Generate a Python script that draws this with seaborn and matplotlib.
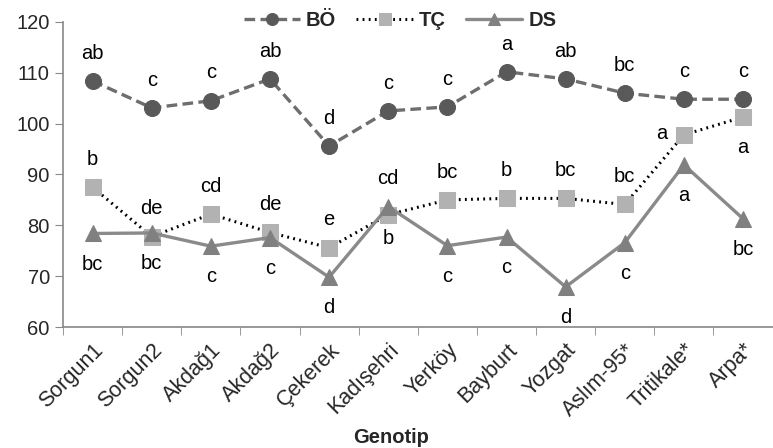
import pandas as pd
import seaborn as sns
import matplotlib.pyplot as plt

# Veriler
genotip = ['Sorgun1', 'Sorgun2', 'Akdağ1', 'Akdağ2', 'Çekerek', 'Kadışehri',
           'Yerköy', 'Bayburt', 'Yozgat', 'Aslım-95*', 'Tritikale*', 'Arpa*']
bo = [108.4, 103.1, 104.5, 108.8, 95.6, 102.5, 103.3, 110.2, 108.8, 106.0, 104.8, 104.8]
tc = [87.5, 77.8, 82.2, 78.6, 75.6, 82.1, 85.0, 85.3, 85.3, 84.1, 97.8, 101.3]
ds = [78.4, 78.5, 75.9, 77.6, 69.8, 83.7, 76.0, 77.7, 67.9, 76.6, 91.9, 81.3]

bo_harf = ['ab', 'c', 'c', 'ab', 'd', 'c', 'c', 'a', 'ab', 'bc', 'c', 'c']
tc_harf = ['b', 'de', 'cd', 'de', 'e', 'b', 'bc', 'b', 'bc', 'bc', 'a', 'a']
ds_harf = ['bc', 'bc', 'c', 'c', 'd', 'cd', 'c', 'c', 'd', 'c', 'a', 'bc']

# harflerin konumu (nokta cinsinden kayma)
bo_ofs = [(0, 20)] * 12
tc_ofs = [(0, 20)] * 5 + [(0, -17)] + [(0, 20)] * 4 + [(-16, 1), (0, -22)]
ds_ofs = [(0, -22)] * 5 + [(0, 20)] + [(0, -22)] * 6

df = pd.DataFrame({'Genotip': genotip, 'BÖ': bo, 'TÇ': tc, 'DS': ds})
uzun = df.melt(id_vars='Genotip', var_name='seri', value_name='deger')

sns.set_style('white')
plt.rcParams['font.family'] = ['Liberation Sans', 'DejaVu Sans']

fig = plt.figure(figsize=(7.73, 4.48), dpi=100)
ax = fig.add_axes([0.0815, 0.27, 0.918, 0.681])

renkler = {'BÖ': '#595959', 'TÇ': '#b2b2b2', 'DS': '#808080'}
cizgi = {'BÖ': '#6e6e6e', 'TÇ': '#000000', 'DS': '#8a8a8a'}
isaret = {'BÖ': 'o', 'TÇ': 's', 'DS': '^'}
stil = {'BÖ': (0, (3.2, 1.6)), 'TÇ': (0, (0.6, 1.4)), 'DS': '-'}
lw = {'BÖ': 2.4, 'TÇ': 2.2, 'DS': 2.4}

for s in ['BÖ', 'TÇ', 'DS']:
    d = uzun[uzun['seri'] == s]
    sns.lineplot(data=d, x='Genotip', y='deger', ax=ax, sort=False,
                 color=cizgi[s], linestyle=stil[s], linewidth=lw[s],
                 marker=isaret[s], markersize=11.5, markerfacecolor=renkler[s],
                 markeredgecolor=renkler[s], label=s, zorder=3)

for vals, harf, ofs in [(bo, bo_harf, bo_ofs), (tc, tc_harf, tc_ofs), (ds, ds_harf, ds_ofs)]:
    for i, (v, h, o) in enumerate(zip(vals, harf, ofs)):
        ax.annotate(h, (i, v), xytext=o, textcoords='offset points',
                    ha='center', va='center', fontsize=14.5, color='black')

ax.set_ylim(60, 120)
ax.set_xlim(-0.5, 11.38)
ax.set_yticks(range(60, 121, 10))
ax.set_xticks(range(len(genotip)))
ax.set_xticklabels(genotip, rotation=45, ha='right', rotation_mode='anchor')
ax.set_xticks([i - 0.5 for i in range(len(genotip) + 1)], minor=True)
ax.tick_params(axis='x', which='major', length=0, labelsize=15.5, pad=9)
ax.tick_params(axis='x', which='minor', length=6, color='#888888', direction='out', bottom=True)
ax.tick_params(axis='y', length=6, color='#888888', direction='out', left=True, labelsize=14.5)

for k in ['top', 'right']:
    ax.spines[k].set_visible(False)
for k in ['left', 'bottom']:
    ax.spines[k].set_color('#888888')
    ax.spines[k].set_linewidth(1.2)

ax.set_xlabel('Genotip', fontsize=14.5, fontweight='bold', va='top')
ax.xaxis.set_label_coords(0.463, -0.33)
ax.set_ylabel('')

leg = ax.legend(loc='upper center', bbox_to_anchor=(0.475, 1.095), ncol=3, frameon=False,
                fontsize=14.5, handlelength=2.8, columnspacing=1.0, handletextpad=0.3,
                markerscale=0.75)
for t in leg.get_texts():
    t.set_fontweight('bold')

fig.savefig('out.png', dpi=100)
